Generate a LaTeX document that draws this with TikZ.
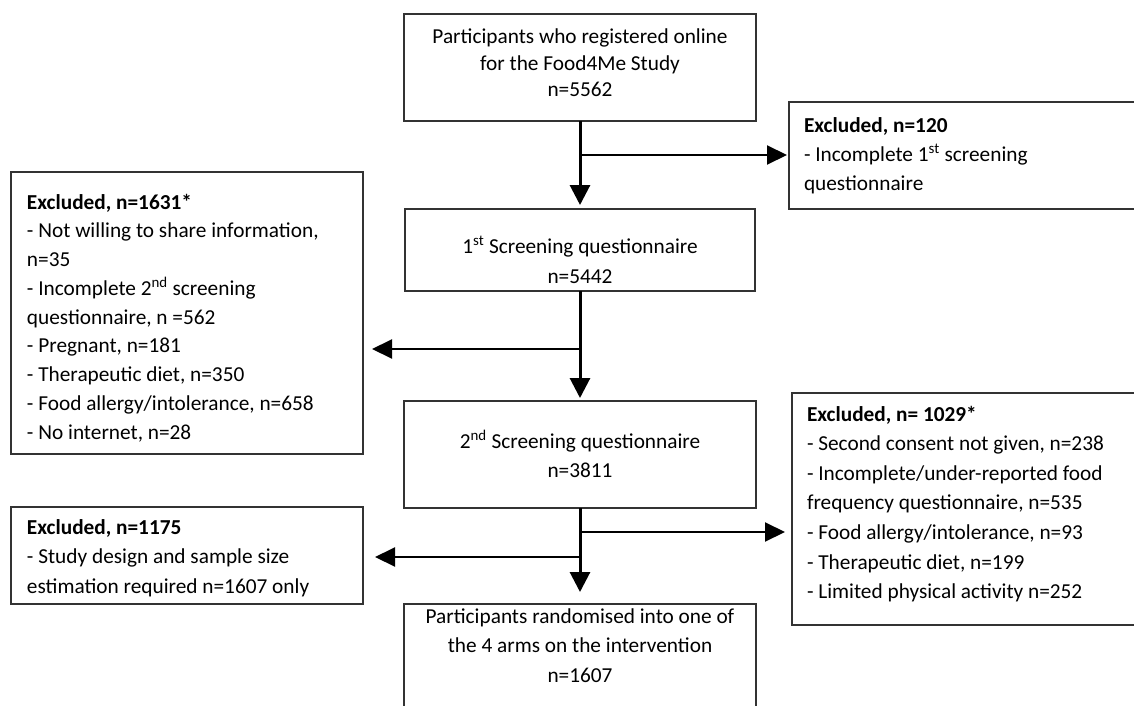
\documentclass[tikz,border=0pt]{standalone}
\usepackage{fontspec}
\setmainfont{Carlito}
\usetikzlibrary{arrows.meta,calc}
\begin{document}
\begin{tikzpicture}[x=1pt,y=-1pt,
  boxstyle/.style={draw=black!80, line width=1.1pt, inner sep=0pt, outer sep=0pt, anchor=north west},
  txt/.style={inner sep=0pt, outer sep=0pt, font=\fontsize{21.3}{#1}\selectfont},
  mainline/.style={line width=3pt, -{Triangle[length=20pt,width=20pt]}},
  branch/.style={line width=2pt, -{Triangle[length=20pt,width=19pt]}}]
\useasboundingbox (0,0) rectangle (1134,706);
\clip (0,0) rectangle (1134,706);
\fill[white] (0,0) rectangle (1134,706);

% boxes
\node[boxstyle, minimum width=352pt, minimum height=107pt] (b1) at (404,14) {};
\node[boxstyle, minimum width=350pt, minimum height=82pt]  (b2) at (405,209) {};
\node[boxstyle, minimum width=352pt, minimum height=107pt] (b3) at (404,401) {};
\node[boxstyle, minimum width=352pt, minimum height=130pt] (b4) at (404,604) {};
\node[boxstyle, minimum width=370pt, minimum height=107pt] (e1) at (789,102) {};
\node[boxstyle, minimum width=352pt, minimum height=282pt] (e2) at (11,172) {};
\node[boxstyle, minimum width=370pt, minimum height=232pt] (e3) at (792,393) {};
\node[boxstyle, minimum width=352pt, minimum height=97pt]  (e4) at (11,507) {};

% texts
\node[txt=26.5, anchor=north, align=center] (t1) at (580,25.45)
  {\strut Participants who registered online\\ for the Food4Me Study\\ n=5562};
\node[txt=30, anchor=north, align=center] (t2) at (580,232)
  {\strut 1\textsuperscript{st} Screening questionnaire\\ n=5442};
\node[txt=29, anchor=north, align=center] (t3) at (580,427.7)
  {\strut 2\textsuperscript{nd} Screening questionnaire\\ n=3811};
\node[txt=29.5, anchor=north, align=center] (t4) at (580,602.35)
  {\strut Participants randomised into one of\\ the 4 arms on the intervention\\ n=1607};
\node[txt=29, anchor=north west, align=left] (te1) at (804,111.7)
  {\strut\textbf{Excluded, n=120}\\ - Incomplete 1\textsuperscript{st} screening\\ questionnaire};
\node[txt=28.75, anchor=north west, align=left] (te2) at (27,188.9)
  {\strut\textbf{Excluded, n=1631*}\\ - Not willing to share information,\\ n=35\\
   - Incomplete 2\textsuperscript{nd} screening\\ questionnaire, n =562\\ - Pregnant, n=181\\
   - Therapeutic diet, n=350\\ - Food allergy/intolerance, n=658\\ - No internet, n=28};
\node[txt=29.6, anchor=north west, align=left] (te3) at (807,400.3)
  {\strut\textbf{Excluded, n= 1029*}\\ - Second consent not given, n=238\\
   - Incomplete/under-reported food\\ frequency questionnaire, n=535\\
   - Food allergy/intolerance, n=93\\ - Therapeutic diet, n=199\\
   - Limited physical activity n=252};
\node[txt=29.5, anchor=north west, align=left] (te4) at (27,513.35)
  {\strut\textbf{Excluded, n=1175}\\ - Study design and sample size\\ estimation required n=1607 only};

% junctions
\coordinate (j1) at (580,155);
\coordinate (j2) at (580,349);
\coordinate (j3) at (580,532);
\coordinate (j4) at (580,557);

% connectors
\draw[mainline, shorten >=4pt] (b1.south) -- (b1.south |- b2.north);
\draw[mainline, shorten >=3pt] (b2.south) -- (b2.south |- b3.north);
\draw[mainline, shorten >=12pt] (b3.south -| b1.south) -- (b1.south |- b4.north);
\draw[branch, shorten >=2pt] (j1) -- (j1 -| e1.west);
\draw[branch, shorten >=9pt] (j2) -- (j2 -| e2.east);
\draw[branch, shorten >=7pt] (j3) -- (j3 -| e3.west);
\draw[branch, shorten >=12pt] (j4) -- (j4 -| e4.east);
\end{tikzpicture}
\end{document}
